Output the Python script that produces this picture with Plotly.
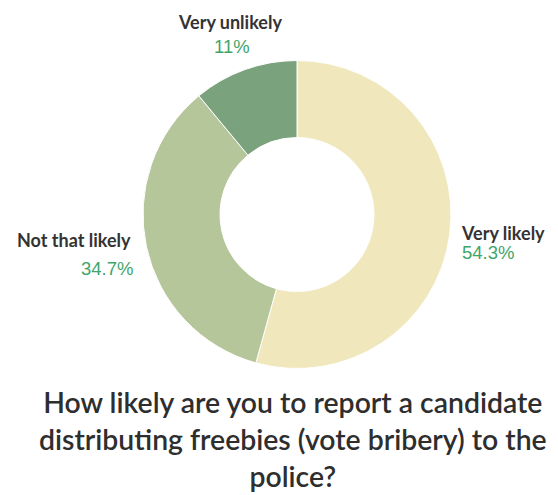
import plotly.graph_objects as go

# Survey responses
categories = ["Very likely", "Not that likely", "Very unlikely"]
shares = [54.3, 34.7, 11.0]
slice_colors = ["#F0E8BC", "#B6C69B", "#7AA27D"]

title_lines = [
    "How likely are you to report a candidate",
    "distributing freebies (vote bribery) to the",
    "police?",
]

W, H = 558, 495
cx, cy, r = 297, 214.5, 154

fig = go.Figure(
    go.Pie(
        labels=categories,
        values=shares,
        marker=dict(colors=slice_colors, line=dict(color="white", width=1)),
        hole=0.5,
        sort=False,
        direction="clockwise",
        rotation=0,
        textinfo="none",
        hoverinfo="label+percent",
        domain=dict(
            x=[(cx - r) / W, (cx + r) / W],
            y=[(H - cy - r) / H, (H - cy + r) / H],
        ),
    )
)

# Label placement per category: (label anchor x, label y, pct x, pct y, xanchor)
label_layout = {
    "Very likely": (459, 233, 460, 253, "left"),
    "Not that likely": (133, 240, 135, 268, "right"),
    "Very unlikely": (230, 22, 232, 47, "center"),
}

annotations = []
for name, val in zip(categories, shares):
    lx, ly, px, py, anchor = label_layout[name]
    annotations.append(dict(
        text=f"<b>{name}</b>", x=lx / W, y=1 - ly / H, xref="paper", yref="paper",
        xanchor=anchor, yanchor="middle", showarrow=False,
        font=dict(family="Lato", size=18, color="#333333"),
    ))
    annotations.append(dict(
        text=f"{val:g}%", x=px / W, y=1 - py / H, xref="paper", yref="paper",
        xanchor=anchor, yanchor="middle", showarrow=False,
        font=dict(family="Liberation Sans, Arial", size=18.5, color="#3FA56B"),
    ))

annotations.append(dict(
    text="<br>".join(title_lines), x=293 / W, y=1 - 439 / H, xref="paper", yref="paper",
    xanchor="center", yanchor="middle", showarrow=False, align="center",
    font=dict(family="Lato", size=28.4, color="#2E2E2E", weight=600),
))

fig.update_layout(
    width=W, height=H,
    margin=dict(l=0, r=0, t=0, b=0),
    paper_bgcolor="white",
    plot_bgcolor="white",
    showlegend=False,
    annotations=annotations,
)

fig.write_html("out.html", config={"displayModeBar": False})
